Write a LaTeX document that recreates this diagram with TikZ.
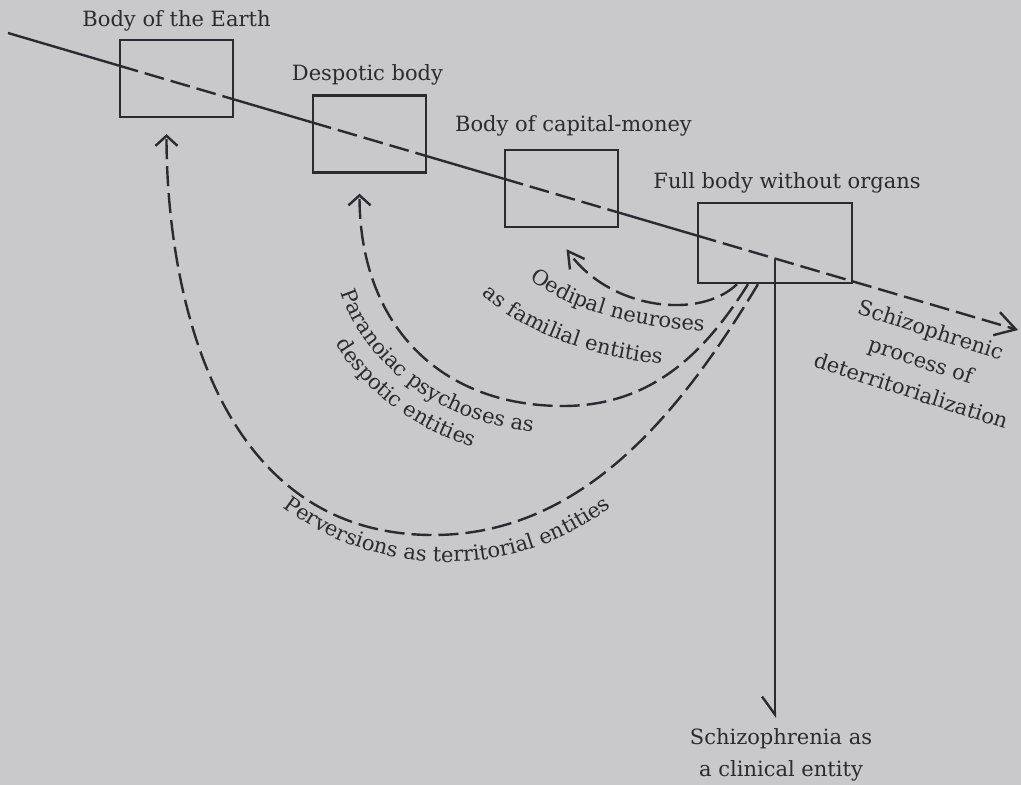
\documentclass[tikz,border=0pt]{standalone}
\usepackage{fontspec}
\setmainfont{DejaVu Serif}
\usetikzlibrary{positioning,arrows.meta,decorations.text}
\definecolor{paper}{HTML}{C9C9CB}
\definecolor{ink}{HTML}{2B2A30}
\newcommand{\labelfont}{\fontsize{10.5}{16}\selectfont}

\begin{document}
\begin{tikzpicture}[x=0.5pt,y=-0.5pt,
  body/.style={draw=ink, line width=1.2pt, minimum width=56.5pt, minimum height=38.5pt, inner sep=0pt},
  axis/.style={draw=ink, line width=1.2pt},
  gap/.style={dash pattern=on 10pt off 3.5pt},
  lbl/.style={text=ink, font=\labelfont, inner sep=0pt, align=center},
  curvetext/.style={decorate, decoration={text along path, text align=center, text={|\labelfont\color{ink}|#1}}},
  wide/.style={-{Straight Barb[length=5pt,width=11pt]}}]
\fill[paper] (0,0) rectangle (1021,785);
\useasboundingbox (0,0) rectangle (1021,785);

\node[body] (earth) at (176.5,78.5) {};
\node[body] (despot) at (369.5,134) {};
\node[body] (capital) at (561.5,188.5) {};
\node[body, minimum width=77pt, minimum height=40pt] (full) at (775,243) {};

\node[lbl, anchor=base] (earth-lbl) at ([yshift=6pt]earth.north) {Body of the Earth};
\node[lbl, anchor=base] (despot-lbl) at ([xshift=-1pt,yshift=7pt]despot.north) {Despotic body};
\node[lbl, anchor=base] (capital-lbl) at ([xshift=6pt,yshift=8.5pt]capital.north) {Body of capital-money};
\node[lbl, anchor=base] (full-lbl) at ([xshift=6pt,yshift=6.5pt]full.north) {Full body without organs};

% the axis of the bodies
\coordinate (start) at (8,33);
\coordinate (goal) at (1018,330);
\foreach \b in {earth,despot,capital,full}{
  \coordinate (\b-in) at (intersection of start--goal and \b.north west--\b.south west);
  \coordinate (\b-out) at (intersection of start--goal and \b.north east--\b.south east);
}
\draw[axis] (start) -- (earth-in) (earth-out) -- (despot-in) (despot-out) -- (capital-in) (capital-out) -- (full-in);
\draw[axis, gap] (earth-in) -- (earth-out) (despot-in) -- (despot-out) (capital-in) -- (capital-out);
\draw[axis, gap, -{Straight Barb[length=10pt,width=12pt]}] (full-in) -- (goal);

\node[lbl, rotate=-18] (process) at (921,360) {Schizophrenic\\process of\\deterritorialization};

% clinical entity
\coordinate (drop) at (intersection of start--goal and full.north--full.south);
\node[lbl] (clinical) at (781,755) {Schizophrenia as\\a clinical entity};
\draw[axis, shorten >=5pt, -{Straight Barb[harpoon,swap,length=9pt,width=13pt]}] (drop) -- (drop |- clinical.north);

% dashed returns
\coordinate (earth-tip) at ([xshift=-5pt,yshift=-8pt]earth.south);
\coordinate (despot-tip) at ([xshift=-5pt,yshift=-10pt]despot.south);
\coordinate (capital-tip) at ([xshift=2.5pt,yshift=-10.5pt]capital.south);
\draw[axis, gap, -{Straight Barb[length=8pt,width=9pt]}] ([xshift=-19pt]full.south) .. controls (700,320) and (610,310) .. (capital-tip);
\draw[axis, gap, wide] ([xshift=-13.5pt]full.south) .. controls (706,351) and (653,406) .. (563,406) .. controls (440,406) and (359.5,325) .. (despot-tip);
\draw[axis, gap, wide] ([xshift=-8.5pt]full.south) .. controls (681,412) and (583,535) .. (433,535) .. controls (210,535) and (166.5,280) .. (earth-tip);

\path[curvetext={Oedipal neuroses}] (510,262) .. controls (555,310) and (640,332) .. (730,332);
\path[curvetext={as familial entities}] (462,275) .. controls (515,335) and (600,362) .. (690,366);
\path[curvetext={Paranoiac psychoses as}] (563,240) ++(178:231 and 194) arc[start angle=178, end angle=86, x radius=231, y radius=194];
\path[curvetext={despotic entities}] (563,240) ++(180:258 and 221) arc[start angle=180, end angle=86, x radius=258, y radius=221];
\path[curvetext={Perversions as territorial entities}] (447,289) ++(135:273) arc[start angle=135, end angle=45, radius=273];
\end{tikzpicture}
\end{document}
